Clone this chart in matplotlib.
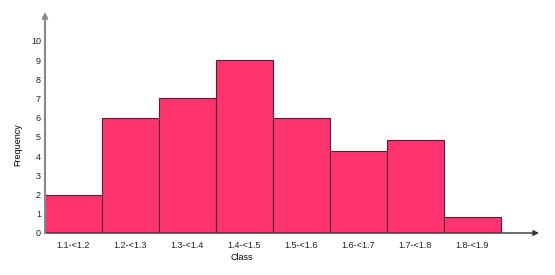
import matplotlib.pyplot as plt

classes = ['1.1-<1.2', '1.2-<1.3', '1.3-<1.4', '1.4-<1.5',
           '1.5-<1.6', '1.6-<1.7', '1.7-<1.8', '1.8-<1.9']
freq = [2, 6, 7, 9, 6, 4.25, 4.85, 0.85]
yticks = list(range(0, 11))

plt.rcParams['font.family'] = ['Liberation Sans', 'DejaVu Sans']

fig = plt.figure(figsize=(5.55, 2.75), dpi=100)
ax = fig.add_axes([45 / 555, 42 / 275, 494 / 555, 221 / 275])

pos = [i + 0.5 for i in range(len(classes))]
ax.bar(pos, freq, width=1.0, color='#ff3370', edgecolor='#5c1a33', linewidth=0.8)

ax.set_xlim(0, 8.67)
ax.set_ylim(0, 11.5)
for s in ax.spines.values():
    s.set_visible(False)

# axes drawn as arrows
ax.annotate('', xy=(8.67, 0), xytext=(0, 0), xycoords='data',
            arrowprops=dict(arrowstyle='-|>', color='#333333', lw=1.0,
                            mutation_scale=8, shrinkA=0, shrinkB=0))
ax.annotate('', xy=(0, 11.5), xytext=(0, 0), xycoords='data',
            arrowprops=dict(arrowstyle='-|>', color='#888888', lw=1.5,
                            mutation_scale=8, shrinkA=0, shrinkB=0))

ax.set_xticks(pos)
ax.set_xticklabels(classes, fontsize=6.5, color='#222222')
ax.set_yticks(yticks)
ax.set_yticklabels([str(v) for v in yticks], fontsize=6.5, color='#222222')
ax.tick_params(axis='x', length=0, pad=6)
ax.tick_params(axis='y', length=0, pad=3)

fig.text(242 / 555, 1 - 258 / 275, 'Class', fontsize=6.5,
         ha='center', va='center')
fig.text(18 / 555, 1 - 145 / 275, 'Frequency', rotation=90, fontsize=6.5,
         ha='center', va='center')

fig.savefig('out.png', dpi=100)
